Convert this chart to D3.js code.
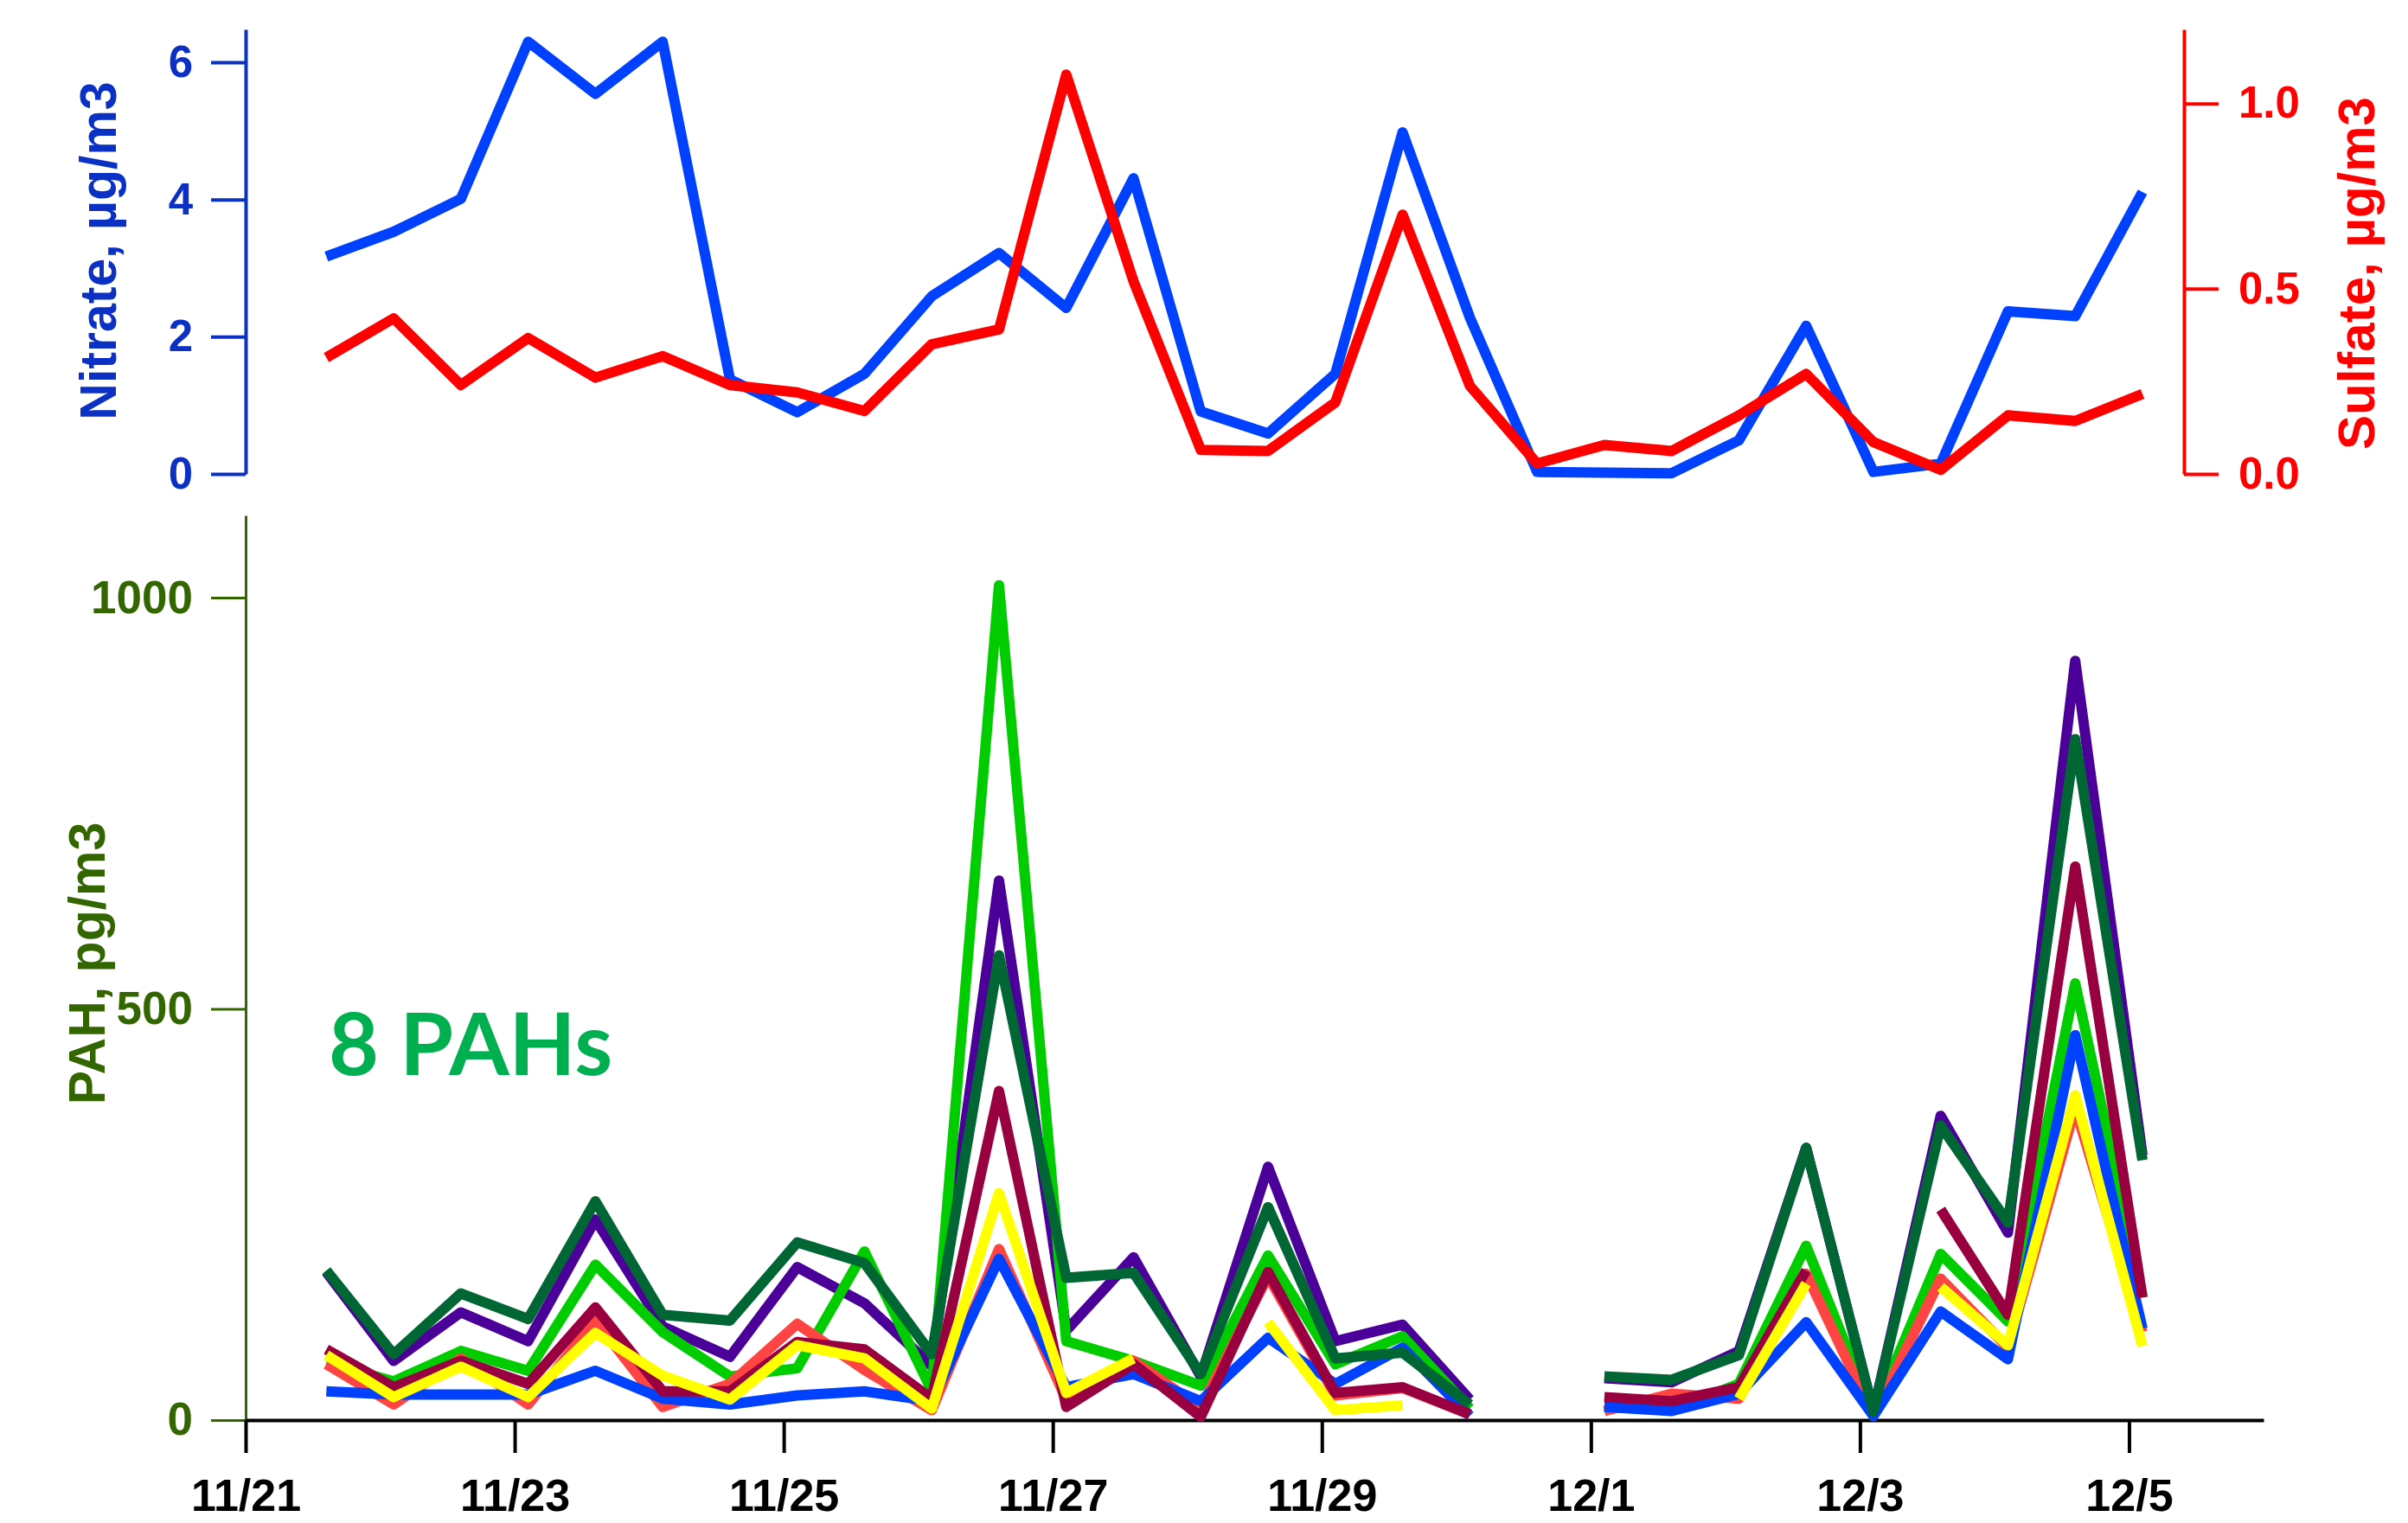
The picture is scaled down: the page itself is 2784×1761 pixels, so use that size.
<!DOCTYPE html>
<html>
<head>
<meta charset="utf-8">
<script src="https://cdn.jsdelivr.net/npm/d3@7"></script>
<style>
  html, body { margin: 0; padding: 0; background: #ffffff; }
  svg { display: block; }
</style>
</head>
<body>
<svg id="chart" width="2784" height="1761"></svg>
<script>
// ---- data -------------------------------------------------------------
// 12-hour sample mid-points
const sampleTimes = [
  "2013-11-21T14:24", "2013-11-22T02:24", "2013-11-22T14:24", "2013-11-23T02:24",
  "2013-11-23T14:24", "2013-11-24T02:24", "2013-11-24T14:24", "2013-11-25T02:24",
  "2013-11-25T14:24", "2013-11-26T02:24", "2013-11-26T14:24", "2013-11-27T02:24",
  "2013-11-27T14:24", "2013-11-28T02:24", "2013-11-28T14:24", "2013-11-29T02:24",
  "2013-11-29T14:24", "2013-11-30T02:24", "2013-11-30T14:24", "2013-12-01T02:24",
  "2013-12-01T14:24", "2013-12-02T02:24", "2013-12-02T14:24", "2013-12-03T02:24",
  "2013-12-03T14:24", "2013-12-04T02:24", "2013-12-04T14:24", "2013-12-05T02:24"
];

// ug/m3
const nitrate = [3.17, 3.53, 4.01, 6.30, 5.54, 6.30, 1.38, 0.90, 1.46, 2.59, 3.22, 2.42, 4.31, 0.91,
                 0.59, 1.46, 4.98, 2.28, 0.03, 0.02, 0.01, 0.49, 2.16, 0.03, 0.15, 2.37, 2.30, 4.11];
const sulfate = [0.314, 0.42, 0.24, 0.367, 0.26, 0.318, 0.24, 0.22, 0.17, 0.35, 0.39, 1.078, 0.52, 0.065,
                 0.062, 0.193, 0.70, 0.238, 0.028, 0.078, 0.062, 0.158, 0.27, 0.086, 0.011, 0.158, 0.143, 0.216];

// pg/m3, null = no sample
const pahPurple    = [180, 72, 131, 96, 244, 114, 77, 186, 142, 66, 656, 109, 198, 53,
                      308, 96, 116, 25, null, 51, 46, 84, 331, 10, 370, 228, 923, 322];
const pahGreen     = [70, 47, 84, 60, 189, 107, 53, 63, 205, 36, 1015, 96, 72, 42,
                      200, 68, 102, 14, null, 16, 12, 44, 212, 7, 202, 120, 531, 151];
const pahRed       = [68, 19, 75, 19, 121, 16, 44, 117, 61, 12, 208, 25, 72, 15,
                      175, 30, 39, 7, null, 11, 32, 26, 178, 5, 172, 88, 380, 107];
const pahBlue      = [35, 31, 31, 31, 60, 26, 19, 30, 35, 23, 196, 40, 56, 23,
                      100, 44, 88, 5, null, 16, 11, 32, 119, 5, 132, 74, 468, 111];
const pahDarkGreen = [182, 80, 154, 123, 266, 128, 121, 216, 191, 80, 565, 173, 179, 56,
                      259, 75, 82, 19, null, 53, 49, 79, 331, 10, 358, 240, 828, 316];
const pahMaroon    = [86, 40, 72, 44, 137, 35, 35, 95, 86, 26, 400, 16, 68, 4,
                      180, 33, 40, 7, null, 28, 23, 40, 182, null, 256, 128, 673, 149];
const pahYellow    = [79, 28, 65, 28, 106, 54, 25, 91, 75, 14, 276, 33, 75, null,
                      119, 12, 18, null, null, null, null, 26, 166, null, 162, 91, 395, 90];

// axis ticks
const nitrateTicks = [0, 2, 4, 6];
const sulfateTicks = [0.0, 0.5, 1.0];
const pahTicks = [0, 500, 1000];
const dateTicks = ["11/21", "11/23", "11/25", "11/27", "11/29", "12/1", "12/3", "12/5"];

// ---- drawing ------------------------------------------------------------
const FONT = "'Liberation Sans', Arial, Helvetica, sans-serif";
const svg = d3.select("#chart");

const parseTime = d3.utcParse("%Y-%m-%dT%H:%M");
const times = sampleTimes.map(parseTime);
const parseTick = s => { const [m, d] = s.split("/").map(Number); return new Date(Date.UTC(2013, m - 1, d)); };

const x = d3.scaleUtc()
  .domain([new Date(Date.UTC(2013, 10, 21)), new Date(Date.UTC(2013, 11, 6))])
  .range([284, 2617]);

const yNitrate = d3.scaleLinear().domain([0, 6.48]).range([548, 34]);
const ySulfate = d3.scaleLinear().domain([0, 1.2]).range([548, 34]);
const yPah = d3.scaleLinear().domain([0, 1100]).range([1642, 596]);

function styleAxis(g, color, fontSize, lineW) {
  g.select(".domain").attr("stroke", color).attr("stroke-width", lineW);
  g.selectAll(".tick line").attr("stroke", color).attr("stroke-width", lineW);
  g.selectAll(".tick text")
    .attr("fill", color)
    .style("font-family", FONT)
    .style("font-weight", "bold")
    .style("font-size", fontSize + "px");
}

// ---- top panel: nitrate / sulfate ----
const nitrateColor = "#0a30c4";
const sulfateColor = "#ff0000";

const gN = svg.append("g").attr("transform", "translate(284,0)")
  .call(d3.axisLeft(yNitrate).tickValues(nitrateTicks).tickSize(40).tickSizeOuter(0)
    .tickPadding(21).tickFormat(d3.format("d")));
styleAxis(gN, nitrateColor, 51, 4);

const gS = svg.append("g").attr("transform", "translate(2525,0)")
  .call(d3.axisRight(ySulfate).tickValues(sulfateTicks).tickSize(40).tickSizeOuter(0)
    .tickPadding(23).tickFormat(d3.format(".1f")));
styleAxis(gS, sulfateColor, 51, 4);

svg.append("text")
  .attr("transform", "translate(134,290) rotate(-90)")
  .attr("text-anchor", "middle")
  .attr("fill", nitrateColor)
  .style("font-family", FONT).style("font-weight", "bold").style("font-size", "59px")
  .text("Nitrate, \u00b5g/m3");

svg.append("text")
  .attr("transform", "translate(2745,316) rotate(-90)")
  .attr("text-anchor", "middle")
  .attr("fill", sulfateColor)
  .style("font-family", FONT).style("font-weight", "bold").style("font-size", "60px")
  .text("Sulfate, \u00b5g/m3");

const topSeries = [
  { values: nitrate, y: yNitrate, color: "#0040ff" },
  { values: sulfate, y: ySulfate, color: "#ff0000" }
];
topSeries.forEach(s => {
  const line = d3.line()
    .defined(d => d != null)
    .x((d, i) => x(times[i]))
    .y(d => s.y(d));
  svg.append("path")
    .datum(s.values)
    .attr("d", line)
    .attr("fill", "none")
    .attr("stroke", s.color)
    .attr("stroke-width", 12)
    .attr("stroke-linejoin", "round")
    .attr("stroke-linecap", "butt");
});

// ---- bottom panel: PAHs ----
const pahColor = "#336600";

const gP = svg.append("g").attr("transform", "translate(284,0)")
  .call(d3.axisLeft(yPah).tickValues(pahTicks).tickSize(40).tickSizeOuter(0)
    .tickPadding(21).tickFormat(d3.format("d")));
styleAxis(gP, pahColor, 53, 3);

svg.append("text")
  .attr("transform", "translate(121,1114) rotate(-90)")
  .attr("text-anchor", "middle")
  .attr("fill", pahColor)
  .style("font-family", FONT).style("font-weight", "bold").style("font-size", "59px")
  .text("PAH, pg/m3");

const gX = svg.append("g").attr("transform", "translate(0,1642)")
  .call(d3.axisBottom(x).tickValues(dateTicks.map(parseTick)).tickSize(38).tickSizeOuter(0)
    .tickPadding(30).tickFormat(d3.utcFormat("%-m/%-d")));
styleAxis(gX, "#000000", 52, 4);

const pahSeries = [
  { values: pahPurple, color: "#4b0099" },
  { values: pahGreen, color: "#00cc00" },
  { values: pahRed, color: "#ff4444" },
  { values: pahBlue, color: "#0040ff" },
  { values: pahDarkGreen, color: "#006633" },
  { values: pahMaroon, color: "#990040" },
  { values: pahYellow, color: "#ffff00" }
];
const pahLine = d3.line()
  .defined(d => d != null)
  .x((d, i) => x(times[i]))
  .y(d => yPah(d));
svg.append("g").selectAll("path")
  .data(pahSeries)
  .join("path")
  .attr("d", s => pahLine(s.values))
  .attr("fill", "none")
  .attr("stroke", s => s.color)
  .attr("stroke-width", 12)
  .attr("stroke-linejoin", "round")
  .attr("stroke-linecap", "butt");

svg.append("text")
  .attr("x", 380).attr("y", 1243)
  .attr("fill", "#00b050")
  .style("font-family", "Lato, 'Open Sans', sans-serif")
  .style("font-weight", "bold")
  .style("font-size", "100px")
  .text("8 PAHs");
</script>
</body>
</html>
